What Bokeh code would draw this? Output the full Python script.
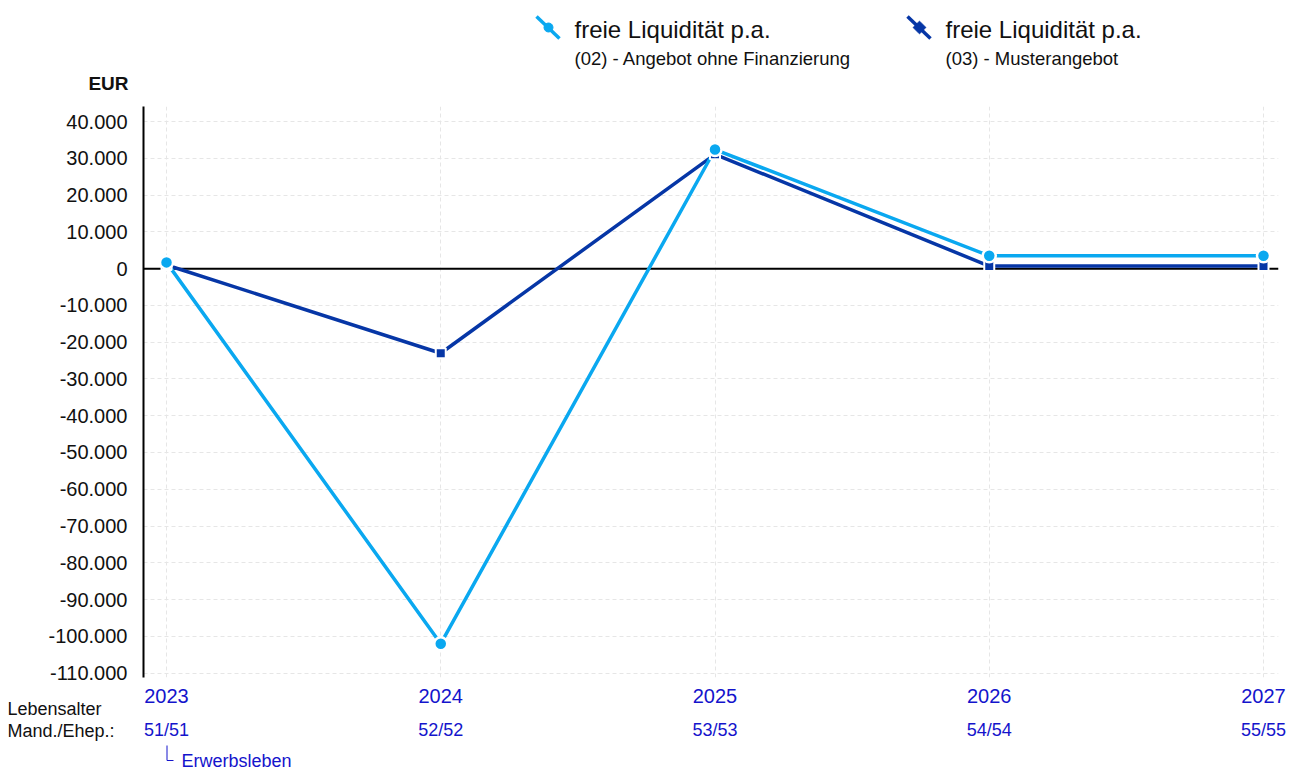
from bokeh.plotting import figure
from bokeh.models import Range1d, FixedTicker, LinearAxis, Span, ColumnDataSource, GridBox
from bokeh.embed import file_html
from bokeh.resources import INLINE
from bokeh.core.properties import value

# ---------------- data ----------------
years = [2023, 2024, 2025, 2026, 2027]
ages = ["51/51", "52/52", "53/53", "54/54", "55/55"]
liq_02 = [1700, -102000, 32400, 3500, 3500]
liq_03 = [1000, -23000, 31100, 700, 700]
y_ticks = [40000, 30000, 20000, 10000, 0, -10000, -20000, -30000, -40000, -50000,
           -60000, -70000, -80000, -90000, -100000, -110000]
y_tick_labels = ["40.000", "30.000", "20.000", "10.000", "0", "-10.000", "-20.000",
                 "-30.000", "-40.000", "-50.000", "-60.000", "-70.000", "-80.000",
                 "-90.000", "-100.000", "-110.000"]
series_title = "freie Liquidität p.a."
series_names = ["(02) - Angebot ohne Finanzierung", "(03) - Musterangebot"]
unit_label = "EUR"
age_caption = ["Lebensalter", "Mand./Ehep.:"]
phase_label = "Erwerbsleben"

# ---------------- style ----------------
FONT = "Liberation Sans"
LIGHT = "#0AA8F0"
DARK = "#0636A6"
BLUE_TXT = "#1414CC"
GRID = "#e6e6e6"
INK = "#111111"

W, H = 1294, 770
FRAME_L, FRAME_R, FRAME_T, FRAME_B = 143, 1278, 106, 677

# ---------------- main chart ----------------
p = figure(width=W, height=H, x_range=Range1d(2022.9161, 2027.0547),
           y_range=Range1d(-111200, 44100), toolbar_location=None, output_backend="svg",
           min_border_left=FRAME_L, min_border_right=W - FRAME_R, min_border_top=FRAME_T,
           min_border_bottom=H - FRAME_B, outline_line_color=None, x_axis_location=None)
p.frame_align = False

tick_map = {t: l for t, l in zip(y_ticks, y_tick_labels)}
p.yaxis.ticker = FixedTicker(ticks=y_ticks)
p.yaxis.major_label_overrides = tick_map
p.yaxis.axis_line_color = "black"
p.yaxis.axis_line_width = 2
p.yaxis.major_tick_line_color = None
p.yaxis.minor_tick_line_color = None
p.yaxis.major_label_standoff = 10
p.yaxis.major_label_text_font = FONT
p.yaxis.major_label_text_font_size = "20px"
p.yaxis.major_label_text_color = INK

ax_year = LinearAxis(ticker=FixedTicker(ticks=years),
                     major_label_overrides={y: str(y) for y in years})
ax_age = LinearAxis(ticker=FixedTicker(ticks=years),
                    major_label_overrides={y: a for y, a in zip(years, ages)})
for ax, fs, so in [(ax_year, "20px", 5), (ax_age, "18px", 8)]:
    ax.axis_line_color = None
    ax.major_tick_line_color = None
    ax.minor_tick_line_color = None
    ax.major_label_standoff = so
    ax.major_label_text_font = FONT
    ax.major_label_text_font_size = fs
    ax.major_label_text_color = BLUE_TXT
p.add_layout(ax_year, "below")
p.add_layout(ax_age, "below")

p.xgrid.ticker = FixedTicker(ticks=years)
p.ygrid.ticker = FixedTicker(ticks=y_ticks)
for g in (p.xgrid, p.ygrid):
    g.grid_line_color = GRID
    g.grid_line_dash = "4 3"
    g.grid_line_width = 1

p.add_layout(Span(location=0, dimension="width", line_color="black", line_width=2, level="underlay"))

src = ColumnDataSource(dict(x=years, a=liq_02, b=liq_03))
p.line("x", "b", source=src, line_color=DARK, line_width=3.5)
p.line("x", "a", source=src, line_color=LIGHT, line_width=3.5)
p.scatter("x", "b", source=src, marker="square", size=10, fill_color=DARK,
          line_color="white", line_width=2)
p.scatter("x", "a", source=src, marker="circle", size=13, fill_color=LIGHT,
          line_color="white", line_width=2.5)

# ---------------- transparent overlay for legend and captions (pixel coordinates) ----------------
ov = figure(width=W, height=H, x_range=Range1d(0, W), y_range=Range1d(H, 0),
            x_axis_location=None, y_axis_location=None, toolbar_location=None,
            output_backend="svg", min_border=0, outline_line_color=None,
            background_fill_color=None, border_fill_color=None)
ov.frame_align = False
ov.grid.visible = False

leg_x = [536, 907]
leg_col = [LIGHT, DARK]
leg_marker = ["circle", "square"]
for i in range(2):
    x0 = leg_x[i]
    ov.segment(x0=[x0], y0=[16], x1=[x0 + 23], y1=[38], line_color=leg_col[i], line_width=3.5)
    ov.scatter(x=[x0 + 12], y=[27], marker=leg_marker[i], size=9, fill_color=leg_col[i],
               line_color=leg_col[i], angle=0.785 if i == 1 else 0)
    ov.text(x=[x0 + 38], y=[29], text=[series_title], text_font=value(FONT),
            text_font_size="24px", text_baseline="middle", text_color=INK)
    ov.text(x=[x0 + 38], y=[58], text=[series_names[i]], text_font=value(FONT),
            text_font_size="18.5px", text_baseline="middle", text_color=INK)

ov.text(x=[128], y=[83], text=[unit_label], text_font=value(FONT), text_font_size="19px",
        text_font_style="bold", text_align="right", text_baseline="middle", text_color=INK)
ov.text(x=[7, 7], y=[708, 730], text=age_caption, text_font=value(FONT),
        text_font_size="18px", text_baseline="middle", text_color=INK)
ov.text(x=[181], y=[760], text=[phase_label], text_font=value(FONT),
        text_font_size="18px", text_baseline="middle", text_color=BLUE_TXT)
ov.line(x=[166.5, 166.5, 173], y=[745, 760, 760], line_color=BLUE_TXT, line_width=1)

layout = GridBox(children=[(p, 0, 0), (ov, 0, 0)])
open("out.html", "w").write(file_html(layout, INLINE))
